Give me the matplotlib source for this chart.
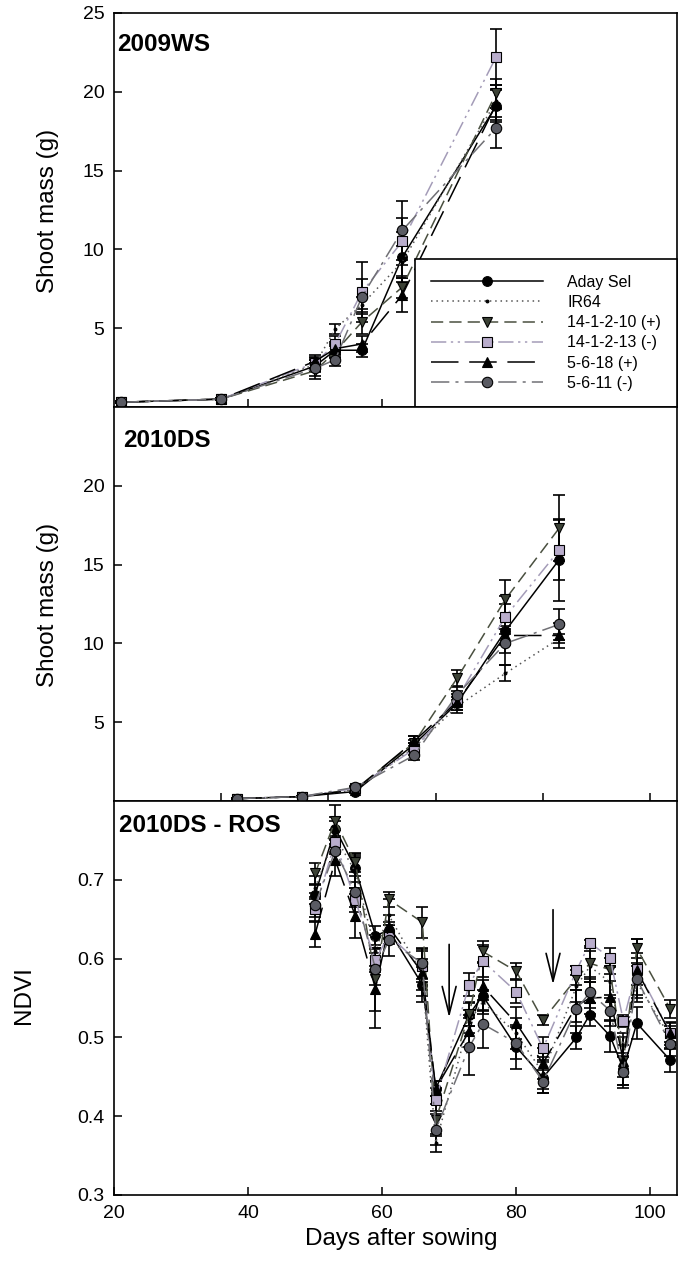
import matplotlib
matplotlib.use('Agg')
import matplotlib.pyplot as plt

plt.rcParams['font.family'] = ['Liberation Sans', 'DejaVu Sans']

# ---- data ----
lines_names = ['Aday Sel', 'IR64', '14-1-2-10 (+)', '14-1-2-13 (-)', '5-6-18 (+)', '5-6-11 (-)']

# 2009WS shoot mass
days_ws = [21, 36, 50, 53, 57, 63, 77]
ws_aday = [0.30, 0.50, 2.6, 3.6, 3.6, 9.5, 19.1]
ws_ir64 = [0.30, 0.50, 2.7, 4.95, 6.5, 9.2, 19.4]
ws_14_10 = [0.30, 0.50, 2.3, 3.5, 5.4, 7.6, 19.9]
ws_14_13 = [0.30, 0.50, 2.8, 4.0, 7.3, 10.5, 22.2]
ws_5_18 = [0.30, 0.50, 2.9, 3.7, 4.0, 7.1, 19.2]
ws_5_11 = [0.30, 0.50, 2.45, 3.0, 7.0, 11.2, 17.7]
ws_err_aday = [0.05, 0.05, 0.4, 0.4, 0.4, 1.6, 1.0]
ws_err_ir64 = [0.05, 0.05, 0.4, 0.3, 0.5, 1.0, 1.0]
ws_err_14_10 = [0.05, 0.05, 0.5, 0.4, 0.8, 0.7, 0.9]
ws_err_14_13 = [0.05, 0.05, 0.4, 0.5, 1.9, 1.5, 1.8]
ws_err_5_18 = [0.05, 0.05, 0.4, 0.4, 0.5, 1.1, 1.0]
ws_err_5_11 = [0.05, 0.05, 0.5, 0.4, 1.1, 1.9, 1.3]

# 2010DS shoot mass
days_ds = [23, 35, 45, 56, 64, 73, 83]
ds_aday = [0.15, 0.28, 0.60, 3.6, 6.2, 10.8, 15.3]
ds_ir64 = [0.15, 0.28, 0.70, 3.4, 6.0, 8.1, 10.3]
ds_14_10 = [0.15, 0.28, 0.75, 3.7, 7.8, 12.8, 17.3]
ds_14_13 = [0.15, 0.28, 0.80, 3.3, 6.5, 11.7, 15.9]
ds_5_18 = [0.15, 0.28, 0.70, 3.8, 6.3, 10.5, 10.5]
ds_5_11 = [0.15, 0.28, 0.87, 2.9, 6.75, 10.0, 11.2]
ds_err_aday = [0.05, 0.05, 0.1, 0.3, 0.4, 2.2, 2.6]
ds_err_ir64 = [0.05, 0.05, 0.1, 0.3, 0.4, 0.5, 0.3]
ds_err_14_10 = [0.05, 0.05, 0.1, 0.4, 0.5, 1.2, 2.1]
ds_err_14_13 = [0.05, 0.05, 0.1, 0.4, 0.5, 0.8, 1.9]
ds_err_5_18 = [0.05, 0.05, 0.1, 0.3, 0.5, 0.6, 0.8]
ds_err_5_11 = [0.05, 0.05, 0.1, 0.3, 0.5, 0.6, 1.0]

# 2010DS - ROS NDVI
days_ndvi = [50, 53, 56, 59, 61, 66, 68, 73, 75, 80, 84, 89, 91, 94, 96, 98, 103]
nd_aday = [0.681, 0.765, 0.715, 0.629, 0.636, 0.567, 0.435, 0.529, 0.553, 0.488, 0.449, 0.500, 0.529, 0.502, 0.460, 0.518, 0.471]
nd_ir64 = [0.690, 0.755, 0.710, 0.610, 0.655, 0.580, 0.366, 0.520, 0.545, 0.505, 0.455, 0.565, 0.590, 0.570, 0.490, 0.570, 0.500]
nd_14_10 = [0.708, 0.775, 0.722, 0.574, 0.675, 0.646, 0.395, 0.530, 0.609, 0.584, 0.522, 0.575, 0.594, 0.586, 0.470, 0.613, 0.536]
nd_14_13 = [0.663, 0.748, 0.674, 0.598, 0.630, 0.590, 0.421, 0.567, 0.597, 0.558, 0.486, 0.585, 0.620, 0.601, 0.521, 0.587, 0.506]
nd_5_18 = [0.631, 0.725, 0.654, 0.562, 0.640, 0.582, 0.435, 0.508, 0.565, 0.518, 0.467, 0.540, 0.550, 0.551, 0.470, 0.585, 0.505]
nd_5_11 = [0.668, 0.737, 0.685, 0.587, 0.623, 0.594, 0.383, 0.488, 0.517, 0.493, 0.444, 0.536, 0.557, 0.534, 0.456, 0.574, 0.492]
nd_err_aday = [0.012, 0.015, 0.018, 0.012, 0.010, 0.022, 0.010, 0.015, 0.020, 0.028, 0.020, 0.015, 0.015, 0.020, 0.020, 0.020, 0.015]
nd_err_ir64 = [0.015, 0.020, 0.020, 0.020, 0.020, 0.020, 0.012, 0.015, 0.015, 0.020, 0.020, 0.020, 0.020, 0.020, 0.015, 0.020, 0.015]
nd_err_14_10 = [0.013, 0.020, 0.012, 0.040, 0.010, 0.020, 0.020, 0.015, 0.013, 0.010, 0.006, 0.015, 0.020, 0.015, 0.020, 0.012, 0.012]
nd_err_14_13 = [0.015, 0.015, 0.015, 0.015, 0.012, 0.020, 0.015, 0.015, 0.020, 0.015, 0.015, 0.006, 0.004, 0.012, 0.008, 0.020, 0.012]
nd_err_5_18 = [0.016, 0.020, 0.028, 0.050, 0.015, 0.030, 0.010, 0.020, 0.030, 0.020, 0.020, 0.020, 0.020, 0.030, 0.030, 0.040, 0.015]
nd_err_5_11 = [0.015, 0.015, 0.020, 0.020, 0.020, 0.020, 0.020, 0.036, 0.030, 0.020, 0.015, 0.030, 0.020, 0.020, 0.020, 0.020, 0.015]

# drought arrows (day, start NDVI, tip NDVI)
arrow_days = [70.0, 85.5]
arrow_top = [0.618, 0.662]
arrow_tip = [0.525, 0.567]

# ---- styles ----
styles = [
    dict(color='black', ls='-', marker='o', ms=7, mfc='black'),
    dict(color='#555555', ls=(0, (1, 2.5)), marker='.', ms=4, mfc='black'),
    dict(color='#4a5040', ls=(0, (8, 4)), marker='v', ms=7.5, mfc='#3c4236'),
    dict(color='#a49cb8', ls=(0, (10, 3, 1.5, 3, 1.5, 3)), marker='s', ms=6.5, mfc='#b9adcc'),
    dict(color='black', ls=(0, (18, 7)), marker='^', ms=7.5, mfc='black'),
    dict(color='#707075', ls=(0, (12, 4, 2, 4)), marker='o', ms=7.5, mfc='#5a5b63'),
]


def draw_panel(ax, days, series, errors):
    handles = []
    for vals, err, st in zip(series, errors, styles):
        ax.errorbar(days, vals, yerr=err, fmt='none', ecolor='black',
                    elinewidth=1.2, capsize=4.5, capthick=1.2, zorder=2)
    for vals, name, st in zip(series, lines_names, styles):
        h, = ax.plot(days, vals, color=st['color'], ls=st['ls'], lw=1.1,
                     marker=st['marker'], ms=st['ms'], mfc=st['mfc'],
                     mec='black', mew=0.8, label=name, zorder=3)
        handles.append(h)
    return handles


def style_axes(ax):
    for sp in ax.spines.values():
        sp.set_linewidth(1.2)
    ax.tick_params(direction='in', length=6, width=1.1, labelsize=14, pad=7)


fig = plt.figure(figsize=(6.84, 12.83), dpi=100)
left, width, height = 0.1667, 0.8231, 0.3071
ax1 = fig.add_axes([left, 0.6828, width, height])
ax2 = fig.add_axes([left, 0.3757, width, height])
ax3 = fig.add_axes([left, 0.0686, width, height])

# top: 2009WS
handles = draw_panel(ax1, days_ws,
                     [ws_aday, ws_ir64, ws_14_10, ws_14_13, ws_5_18, ws_5_11],
                     [ws_err_aday, ws_err_ir64, ws_err_14_10, ws_err_14_13, ws_err_5_18, ws_err_5_11])
ax1.set_xlim(20, 104)
ax1.set_ylim(0, 25)
ax1.set_yticks([5, 10, 15, 20, 25])
ax1.set_xticks([40, 60, 80, 100])
ax1.set_xticklabels([])
ax1.set_ylabel('Shoot mass (g)', fontsize=17.5, va='center')
ax1.yaxis.set_label_coords(-0.117, 0.497)
ax1.text(0.005, 0.919, '2009WS', transform=ax1.transAxes, fontsize=17.5,
         fontweight='bold', ha='left', va='center')
style_axes(ax1)
leg = ax1.legend(handles=handles, loc='lower right', bbox_to_anchor=(1.0, 0.0),
                 borderaxespad=0, fontsize=11.5, handlelength=7.0, handletextpad=1.5,
                 labelspacing=0.33, borderpad=1.0, fancybox=False, framealpha=1,
                 edgecolor='black')
leg.get_frame().set_linewidth(1.2)
leg.set_zorder(10)

# middle: 2010DS
draw_panel(ax2, days_ds,
           [ds_aday, ds_ir64, ds_14_10, ds_14_13, ds_5_18, ds_5_11],
           [ds_err_aday, ds_err_ir64, ds_err_14_10, ds_err_14_13, ds_err_5_18, ds_err_5_11])
ax2.set_xlim(0, 105)
ax2.set_ylim(0, 25)
ax2.set_yticks([5, 10, 15, 20])
ax2.set_xticks([20, 40, 60, 80, 100])
ax2.set_xticklabels([])
ax2.set_ylabel('Shoot mass (g)', fontsize=17.5, va='center')
ax2.yaxis.set_label_coords(-0.117, 0.497)
ax2.text(0.016, 0.916, '2010DS', transform=ax2.transAxes, fontsize=17.5,
         fontweight='bold', ha='left', va='center')
style_axes(ax2)

# bottom: NDVI
draw_panel(ax3, days_ndvi,
           [nd_aday, nd_ir64, nd_14_10, nd_14_13, nd_5_18, nd_5_11],
           [nd_err_aday, nd_err_ir64, nd_err_14_10, nd_err_14_13, nd_err_5_18, nd_err_5_11])
for d, y0, y1 in zip(arrow_days, arrow_top, arrow_tip):
    ax3.annotate('', xy=(d, y1), xytext=(d, y0),
                 arrowprops=dict(arrowstyle='->,head_length=2.0,head_width=0.5',
                                 color='black', lw=1.2, shrinkA=0, shrinkB=0))
ax3.set_xlim(20, 104)
ax3.set_ylim(0.3, 0.8)
ax3.set_yticks([0.3, 0.4, 0.5, 0.6, 0.7])
ax3.set_yticklabels(['0.3', '0.4', '0.5', '0.6', '0.7'])
ax3.set_xticks([20, 40, 60, 80, 100])
ax3.set_ylabel('NDVI', fontsize=17.5, va='center')
ax3.yaxis.set_label_coords(-0.16, 0.508)
ax3.set_xlabel('Days after sowing', fontsize=17.5)
ax3.xaxis.set_label_coords(0.51, -0.085)
ax3.text(0.009, 0.939, '2010DS - ROS', transform=ax3.transAxes, fontsize=17.5,
         fontweight='bold', ha='left', va='center')
style_axes(ax3)

fig.savefig('out.png', dpi=100)
